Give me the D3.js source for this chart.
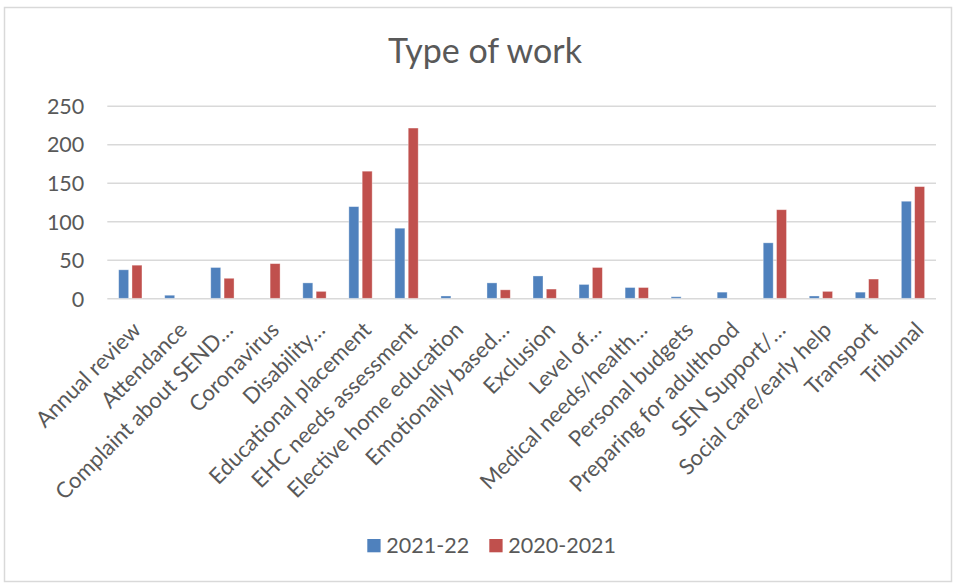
<!DOCTYPE html>
<html>
<head>
<meta charset="utf-8">
<script src="https://cdn.jsdelivr.net/npm/d3@7"></script>
<style>
  html, body { margin: 0; padding: 0; background: #fff; }
  svg { display: block; }
  text { font-family: Lato, "Open Sans", sans-serif; fill: #595959; }
</style>
</head>
<body>
<svg id="chart" width="957" height="584"></svg>
<script>
const categories = [
  "Annual review", "Attendance", "Complaint about SEND\u2026", "Coronavirus",
  "Disability\u2026", "Educational placement", "EHC needs assessment",
  "Elective home education", "Emotionally based\u2026", "Exclusion", "Level of\u2026",
  "Medical needs/health\u2026", "Personal budgets", "Preparing for adulthood",
  "SEN Support/\u2026", "Social care/early help", "Transport", "Tribunal"
];
const seriesNames = ["2021-22", "2020-2021"];
const values2122 = [37, 4, 40, 0, 20, 119, 91, 3, 20, 29, 18, 14, 2, 8, 72, 3, 8, 126];
const values2021 = [43, 0, 26, 45, 9, 165, 221, 0, 11, 12, 40, 14, 0, 0, 115, 9, 25, 145];
const yTicks = [0, 50, 100, 150, 200, 250];
const colors = ["#4F81BD", "#C0504D"];

const svg = d3.select("#chart");
const plot = { left: 107.3, right: 936, top: 105.7, bottom: 298.3 };

// chart border
svg.append("rect")
  .attr("x", 4.5).attr("y", 7.5)
  .attr("width", 947).attr("height", 574)
  .attr("fill", "#fff").attr("stroke", "#D9D9D9").attr("stroke-width", 1.5);

// title
svg.append("text")
  .attr("x", 485).attr("y", 63)
  .attr("text-anchor", "middle")
  .style("font-size", "34px").style("font-weight", 400)
  .text("Type of work");

const x0 = d3.scaleBand().domain(categories).range([plot.left, plot.right]).padding(0);
const bw = x0.bandwidth();
const x1 = d3.scaleBand().domain(seriesNames)
  .range([bw / 2 - 11.65, bw / 2 + 11.65]).paddingInner(0.25).paddingOuter(0);
const y = d3.scaleLinear().domain([0, 250]).range([plot.bottom, plot.top]);

// y axis with gridlines
const yAxis = d3.axisLeft(y).tickValues(yTicks)
  .tickSize(-(plot.right - plot.left)).tickPadding(23);
const gy = svg.append("g").attr("transform", `translate(${plot.left},0)`).call(yAxis);
gy.select(".domain").remove();
gy.selectAll(".tick line").attr("stroke", "#D9D9D9").attr("stroke-width", 1.5);
gy.selectAll(".tick text")
  .style("font-size", "21.5px").style("font-family", "Lato, 'Open Sans', sans-serif")
  .attr("fill", "#595959").attr("dy", "0.36em");

// bars
const data = categories.map((c, i) => ({ cat: c, vals: [values2122[i], values2021[i]] }));
const groups = svg.append("g").selectAll("g").data(data).join("g")
  .attr("transform", d => `translate(${x0(d.cat)},0)`);
groups.selectAll("rect")
  .data(d => d.vals.map((v, j) => ({ key: seriesNames[j], v, j })))
  .join("rect")
  .filter(d => d.v > 0)
  .attr("x", d => x1(d.key))
  .attr("width", x1.bandwidth())
  .attr("y", d => y(d.v))
  .attr("height", d => y(0) - y(d.v))
  .attr("fill", d => colors[d.j])
  .attr("stroke", "#fff").attr("stroke-opacity", 0.45).attr("stroke-width", 0.8);

// x axis labels
const xAxis = d3.axisBottom(x0).tickSize(0).tickPadding(0);
const gx = svg.append("g").attr("transform", `translate(0,${plot.bottom})`).call(xAxis);
gx.select(".domain").remove();
gx.selectAll(".tick text")
  .style("font-size", "22px").style("font-family", "Lato, 'Open Sans', sans-serif")
  .attr("fill", "#595959")
  .attr("x", 0).attr("y", 0).attr("dy", 0)
  .attr("text-anchor", "end")
  .attr("transform", "translate(12,33) rotate(-45)");

// legend
const legend = svg.append("g");
const legendItems = [
  { name: seriesNames[0], color: colors[0], x: 367.3 },
  { name: seriesNames[1], color: colors[1], x: 489.3 }
];
legendItems.forEach(it => {
  legend.append("rect").attr("x", it.x).attr("y", 539).attr("width", 13.3).attr("height", 13.3)
    .attr("fill", it.color);
  legend.append("text").attr("x", it.x + 19).attr("y", 552.5)
    .style("font-size", "21.5px").text(it.name);
});
</script>
</body>
</html>
